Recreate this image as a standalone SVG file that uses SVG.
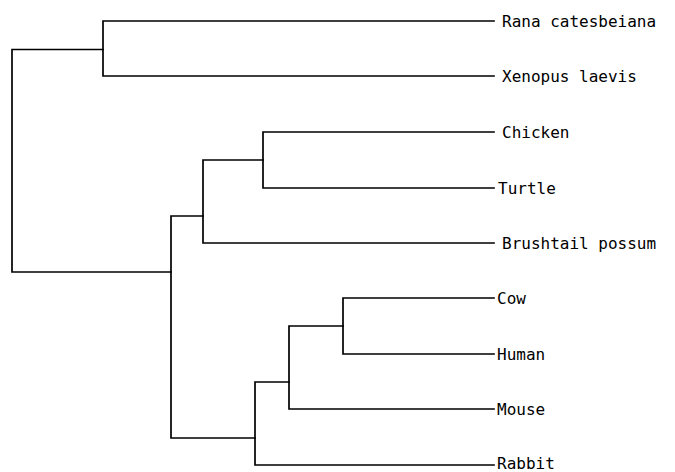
<svg xmlns="http://www.w3.org/2000/svg" width="675" height="472" viewBox="0 0 675 472">
<style>
.e{fill:none;stroke:#000;stroke-width:1.7;stroke-linecap:square}
.t{font-family:"DejaVu Sans Mono","Liberation Mono",monospace;font-size:16px;fill:#000}
</style>
<rect width="675" height="472" fill="#fff"/>
<g id="connectors">
<path class="e" d="M12,49.5V272M12,49.5H103M12,272H171"/>
<path class="e" d="M103,21V76M103,21H494M103,76H494"/>
<path class="e" d="M171,216V438M171,216H203M171,438H255"/>
<path class="e" d="M203,160V243M203,160H263M203,243H494"/>
<path class="e" d="M263,132V188M263,132H494M263,188H494"/>
<path class="e" d="M255,382V465M255,382H289M255,465H494"/>
<path class="e" d="M289,326V409M289,326H343M289,409H494"/>
<path class="e" d="M343,298V354M343,298H494M343,354H494"/>
</g>
<g id="rana"><text class="t" x="502" y="26.5">Rana catesbeiana</text></g>
<g id="xenopus"><text class="t" x="502" y="81.5">Xenopus laevis</text></g>
<g id="chicken"><text class="t" x="502" y="137.5">Chicken</text></g>
<g id="turtle"><text class="t" x="498" y="193.5">Turtle</text></g>
<g id="possum"><text class="t" x="502" y="248.5">Brushtail possum</text></g>
<g id="cow"><text class="t" x="497" y="303.5">Cow</text></g>
<g id="human"><text class="t" x="497" y="359.5">Human</text></g>
<g id="mouse"><text class="t" x="497" y="414.5">Mouse</text></g>
<g id="rabbit"><text class="t" x="497" y="469">Rabbit</text></g>
</svg>
